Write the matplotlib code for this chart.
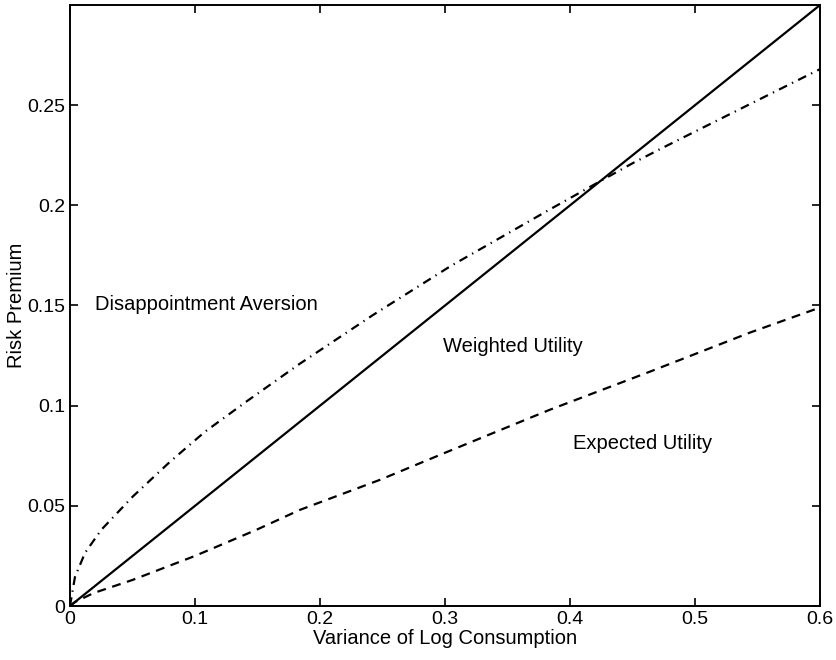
import matplotlib.pyplot as plt

plt.rcParams['font.family'] = ['Liberation Sans', 'DejaVu Sans']

# weighted utility (solid, straight line)
wu_x = [0.0, 0.6]
wu_y = [0.0, 0.3]

# disappointment aversion (dash-dot)
da_x = [0.0, 0.004, 0.012, 0.025, 0.05, 0.08, 0.108, 0.141, 0.184, 0.243,
        0.304, 0.384, 0.424, 0.45, 0.475, 0.531, 0.6]
da_y = [0.0, 0.0145, 0.0265, 0.038, 0.0545, 0.072, 0.087, 0.102, 0.121, 0.1455,
        0.1695, 0.198, 0.212, 0.221, 0.229, 0.2465, 0.268]

# expected utility (dashed)
eu_x = [0.0, 0.004, 0.019, 0.05, 0.1, 0.149, 0.184, 0.248, 0.302, 0.341,
        0.384, 0.464, 0.544, 0.6]
eu_y = [0.0, 0.002, 0.0065, 0.013, 0.025, 0.038, 0.048, 0.063, 0.077, 0.087,
        0.098, 0.117, 0.1365, 0.149]

xticks = [0, 0.1, 0.2, 0.3, 0.4, 0.5, 0.6]
xlabels = ['0', '0.1', '0.2', '0.3', '0.4', '0.5', '0.6']
yticks = [0, 0.05, 0.1, 0.15, 0.2, 0.25]
ylabels = ['0', '0.05', '0.1', '0.15', '0.2', '0.25']

fig = plt.figure(figsize=(8.36, 6.6), dpi=100)
ax = fig.add_axes([0.0837, 0.0818, 0.8973, 0.9107])

ax.plot(wu_x, wu_y, color='black', lw=1.6)
ax.plot(da_x, da_y, color='black', lw=1.6, dashes=(4, 2.5, 0.6, 2.5))
ax.plot(eu_x, eu_y, color='black', lw=1.6, dashes=(4, 3))

ax.text(0.02, 0.1505, 'Disappointment Aversion', fontsize=14.5, va='center')
ax.text(0.298, 0.1295, 'Weighted Utility', fontsize=14.5, va='center')
ax.text(0.402, 0.081, 'Expected Utility', fontsize=14.5, va='center')

ax.set_xlim(0, 0.6)
ax.set_ylim(0, 0.3)
ax.set_xticks(xticks)
ax.set_xticklabels(xlabels)
ax.set_yticks(yticks)
ax.set_yticklabels(ylabels)
ax.tick_params(direction='in', top=True, right=True, length=6, width=1.2,
               labelsize=14)
for s in ax.spines.values():
    s.set_linewidth(1.4)

ax.set_xlabel('Variance of Log Consumption', fontsize=14.5, labelpad=1)
ax.set_ylabel('Risk Premium', fontsize=14.5, labelpad=1)

fig.savefig('out.png', dpi=100)
